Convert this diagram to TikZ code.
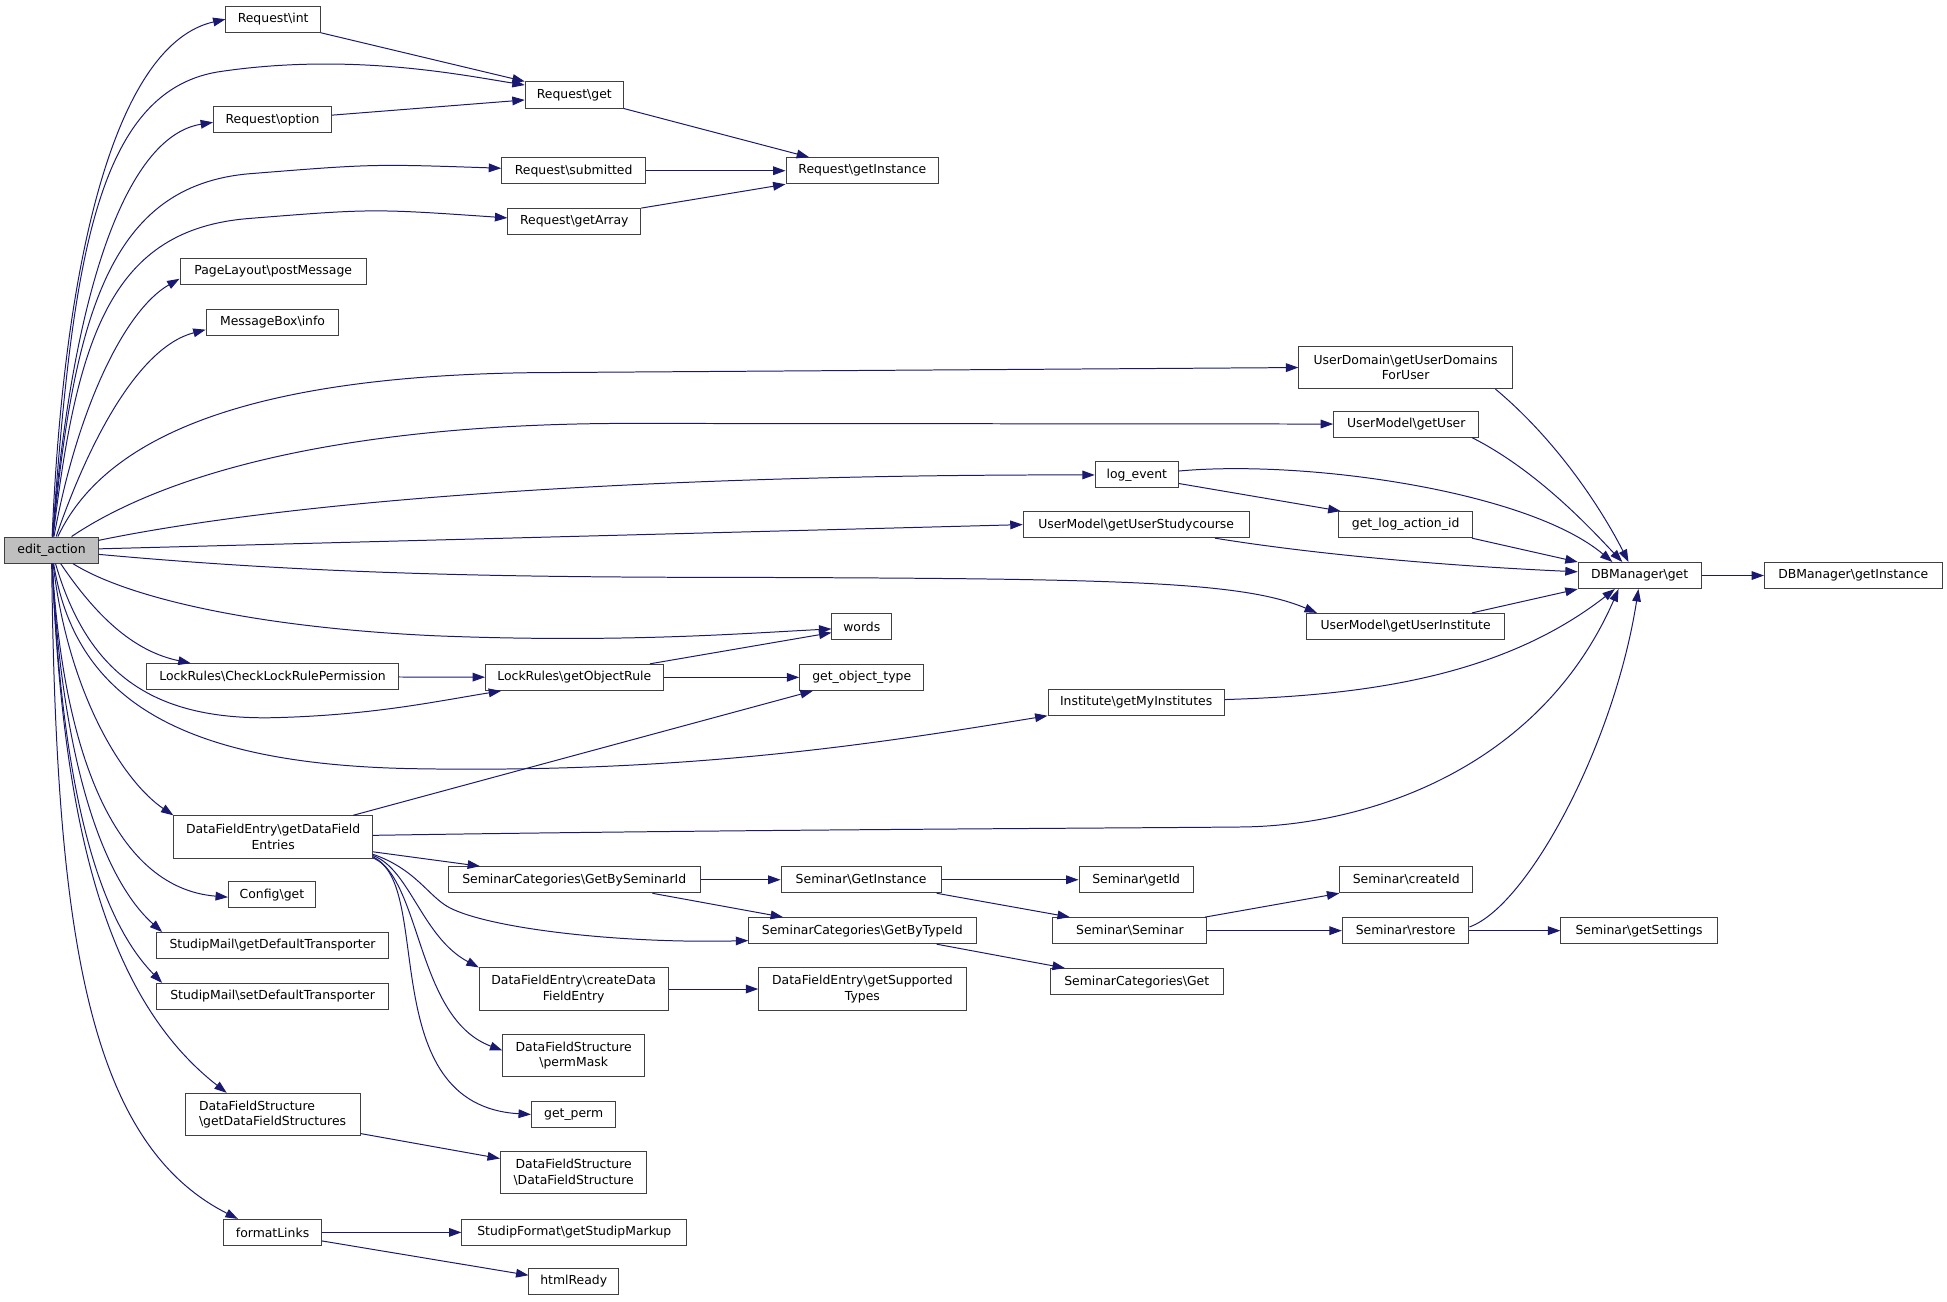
\documentclass[tikz,border=0pt]{standalone}
\usepackage{fontspec}
\setmainfont{DejaVu Sans}
\usetikzlibrary{arrows.meta,calc}
\definecolor{edgeblue}{HTML}{191970}
\definecolor{boxline}{HTML}{404040}
\definecolor{rootfill}{HTML}{BFBFBF}
\newcommand{\bsl}{\textbackslash}
\begin{document}
\begin{tikzpicture}[x=1pt,y=-1pt,
	fn/.style={draw=boxline,line width=0.8pt,fill=white,minimum height=21pt,
		inner sep=0pt,font=\fontsize{10}{12.5}\selectfont},
	fntwo/.style={fn,minimum height=34pt,align=center},
	call/.style={draw=edgeblue,line width=0.8pt,-{Triangle[length=10pt,width=7pt]}}]
	\useasboundingbox (0,0) rectangle (1568,1048);
	\node[fn,fill=rootfill,minimum width=75pt] (ea) at (41.5,443) {edit\_action};
	\foreach \n/\x/\y/\w/\t in {rint/220/15.5/76/Request\bsl int,
		ropt/219.5/96.5/95/Request\bsl option,
		plpm/220/218.5/150/PageLayout\bsl postMessage,
		mbi/219.5/259.5/107/MessageBox\bsl info,
		lrcheck/219.5/545/203/LockRules\bsl CheckLockRulePermission,
		cfg/219/720.5/70/Config\bsl get,
		smget/219.5/761.5/187/StudipMail\bsl getDefaultTransporter,
		smset/219.5/802.5/187/StudipMail\bsl setDefaultTransporter,
		fmt/219.5/992.5/79/formatLinks,
		rget/462.5/76.5/79/Request\bsl get,
		rsub/462/137.5/116/Request\bsl submitted,
		rarr/462.5/178.5/107/Request\bsl getArray,
		rinst/694.5/137.5/123/Request\bsl getInstance,
		words/694/504.5/48/words,
		lrobj/462.5/545.5/143/LockRules\bsl getObjectRule,
		gobjt/694/545.5/100/get\_object\_type,
		scbysem/462.5/708.5/203/SeminarCategories\bsl GetBySeminarId,
		scbytype/694.5/749.5/183/SeminarCategories\bsl GetByTypeId,
		gperm/462/897.5/68/get\_perm,
		sfmarkup/462.5/992.5/181/StudipFormat\bsl getStudipMarkup,
		hready/462/1032/72/htmlReady,
		semgi/693.5/708.5/129/Seminar\bsl GetInstance,
		umget/1132.5/341.5/117/UserModel\bsl getUser,
		logev/915.5/382.5/67/log\_event,
		glaid/1132/422.5/108/get\_log\_action\_id,
		umstudy/915/422.5/182/UserModel\bsl getUserStudycourse,
		uminst/1132/504.5/160/UserModel\bsl getUserInstitute,
		instmy/915/565.5/142/Institute\bsl getMyInstitutes,
		semid/915/708.5/92/Seminar\bsl getId,
		semsem/910/749.5/124/Seminar\bsl Seminar,
		semcat/915.5/790.5/139/SeminarCategories\bsl Get,
		semcid/1132.5/708.5/107/Seminar\bsl createId,
		semrest/1132/749.5/102/Seminar\bsl restore,
		dbget/1320.5/463.5/99/DBManager\bsl get,
		dbinst/1492.5/463.5/143/DBManager\bsl getInstance,
		semset/1320/749.5/126/Seminar\bsl getSettings}
	\node[fn,minimum width=\w pt] (\n) at (\x,\y) {\t};
	\node[fntwo,minimum width=160pt] (dfeget) at (220,674) {DataFieldEntry\bsl getDataField\\Entries};
	\node[fntwo,align=left,minimum width=141pt] (dfsget) at (219.5,897.5) {DataFieldStructure\\\bsl getDataFieldStructures};
	\node[fntwo,minimum width=172pt] (udom) at (1132,296) {UserDomain\bsl getUserDomains\\ForUser};
	\node[fntwo,minimum width=152pt] (dfecreate) at (462,796.5) {DataFieldEntry\bsl createData\\FieldEntry};
	\node[fntwo,minimum width=167pt] (dfetypes) at (694.5,796.5) {DataFieldEntry\bsl getSupported\\Types};
	\node[fntwo,minimum width=114pt] (dfsperm) at (462,850) {DataFieldStructure\\\bsl permMask};
	\node[fntwo,minimum width=118pt] (dfsdfs) at (462,944) {DataFieldStructure\\\bsl DataFieldStructure};
	% calls of edit_action
	\draw[call] (ea) .. controls (52,200) and (95,35) .. (rint.west);
	\draw[call] (ea) .. controls (58,220) and (75,75) .. (175,58) .. controls (280,42) and (370,60) .. ($(rget.west)+(0,-8)$);
	\draw[call] (ea) .. controls (58,240) and (100,110) .. ($(ropt.west)+(0,2)$);
	\draw[call] (ea) .. controls (60,250) and (90,150) .. (200,140) .. controls (300,132) .. ($(rsub.west)+(0,-2)$);
	\draw[call] (ea) .. controls (62,270) and (90,185) .. (200,176) .. controls (300,168) .. ($(rarr.west)+(0,-3)$);
	\draw[call] (ea) .. controls (62,330) and (100,250) .. ($(plpm.west)+(0,6)$);
	\draw[call] (ea) .. controls (70,360) and (110,280) .. ($(mbi.west)+(0,6)$);
	\draw[call] (ea) .. controls (90,340) and (230,300) .. (450,300) -- (udom.west);
	\draw[call] (ea) .. controls (120,390) and (250,342) .. (500,341) -- (umget.west);
	\draw[call] (ea) .. controls (250,400) and (550,382) .. (logev.west);
	\draw[call] (ea) -- (umstudy.west);
	\draw[call] (ea) .. controls (250,462) and (400,465) .. (600,465) .. controls (900,466) and (1000,468) .. ($(uminst.north west)+(9,0)$);
	\draw[call] (ea) .. controls (100,480) and (200,505) .. (350,512) .. controls (500,518) and (600,510) .. ($(words.west)+(0,2)$);
	\draw[call] (ea) .. controls (80,500) and (110,525) .. ($(lrcheck.north west)+(36,0)$);
	\draw[call] (ea) .. controls (70,540) and (120,580) .. (220,578) .. controls (300,576) and (350,565) .. ($(lrobj.south west)+(13,0)$);
	\draw[call] (ea) .. controls (60,560) and (140,615) .. (330,619) .. controls (550,623) and (700,600) .. (instmy.south west);
	\draw[call] (ea) .. controls (55,560) and (100,630) .. (dfeget.north west);
	\draw[call] (ea) .. controls (50,600) and (90,715) .. ($(cfg.west)+(0,2)$);
	\draw[call] (ea) .. controls (50,620) and (85,710) .. ($(smget.north west)+(5,0)$);
	\draw[call] (ea) .. controls (50,640) and (80,740) .. ($(smset.north west)+(5,0)$);
	\draw[call] (ea) .. controls (50,650) and (80,800) .. ($(dfsget.north west)+(34,0)$);
	\draw[call] (ea) .. controls (45,750) and (70,920) .. ($(fmt.north west)+(12,0)$);
	% Request
	\draw[call] (rint.south east) -- (rget.north west);
	\draw[call] (ropt) -- ($(rget.west)+(0,4)$);
	\draw[call] (rget.south east) -- ($(rinst.north west)+(19,0)$);
	\draw[call] (rsub) -- (rinst);
	\draw[call] (rarr.north east) -- (rinst.south west);
	% DBManager
	\draw[call] ($(udom.south east)+(-14,0)$) .. controls (1260,360) and (1295,420) .. ($(dbget.north)+(-9,0)$);
	\draw[call] ($(umget.south east)+(-6,0)$) .. controls (1240,380) and (1285,430) .. ($(dbget.north)+(-14,0)$);
	\draw[call] (logev) .. controls (1050,370) and (1230,395) .. ($(dbget.north)+(-22,0)$);
	\draw[call] ($(logev.south east)+(0,-4)$) -- ($(glaid.north west)+(2,0)$);
	\draw[call] ($(glaid.south east)+(-1,0)$) -- (dbget.north west);
	\draw[call] ($(umstudy.south east)+(-28,0)$) .. controls (1050,445) and (1150,455) .. ($(dbget.west)+(0,-3)$);
	\draw[call] ($(uminst.north east)+(-27,0)$) -- (dbget.south west);
	\draw[call] (instmy) .. controls (1100,560) and (1210,545) .. ($(dbget.south)+(-20,0)$);
	\draw[call] (dfeget) .. controls (600,668) and (900,667) .. (1000,666) .. controls (1100,665) and (1240,620) .. ($(dbget.south)+(-17,0)$);
	\draw[call] ($(semrest.east)+(0,-3)$) .. controls (1230,730) and (1300,600) .. ($(dbget.south)+(-1,0)$);
	\draw[call] (dbget) -- (dbinst);
	% LockRules
	\draw[call] (lrcheck) -- (lrobj);
	\draw[call] ($(lrobj.north east)+(-11,0)$) -- ($(words.west)+(0,5)$);
	\draw[call] (lrobj) -- (gobjt);
	% DataFieldEntry
	\draw[call] ($(dfeget.north east)+(-16,0)$) -- ($(gobjt.south west)+(11,0)$);
	\draw[call] ($(dfeget.east)+(0,12)$) -- ($(scbysem.north west)+(26,0)$);
	\draw[call] ($(dfeget.east)+(0,14)$) .. controls (335,700) and (345,722) .. (362,731) .. controls (395,748) and (500,760) .. ($(scbytype.west)+(0,8)$);
	\draw[call] ($(dfeget.east)+(0,15)$) .. controls (330,700) and (340,755) .. (dfecreate.north west);
	\draw[call] ($(dfeget.east)+(0,16)$) .. controls (340,710) and (335,820) .. ($(dfsperm.west)+(0,-4)$);
	\draw[call] ($(dfeget.east)+(0,17)$) .. controls (350,710) and (300,890) .. (gperm.west);
	\draw[call] (dfecreate) -- (dfetypes);
	% Seminar
	\draw[call] (scbysem) -- (semgi);
	\draw[call] ($(scbysem.south east)+(-39,0)$) -- ($(scbytype.north west)+(28,0)$);
	\draw[call] (semgi) -- (semid);
	\draw[call] ($(semgi.south east)+(-4,0)$) -- ($(semsem.north west)+(14,0)$);
	\draw[call] ($(scbytype.south east)+(-32,0)$) -- ($(semcat.north west)+(12,0)$);
	\draw[call] ($(semsem.north east)+(-2,0)$) -- (semcid.south west);
	\draw[call] (semsem) -- (semrest);
	\draw[call] (semrest) -- (semset);
	% rest
	\draw[call] ($(dfsget.south east)+(0,-2)$) -- ($(dfsdfs.west)+(0,-11)$);
	\draw[call] (fmt) -- (sfmarkup);
	\draw[call] ($(fmt.south east)+(0,-4)$) -- ($(hready.west)+(0,-5)$);
\end{tikzpicture}
\end{document}
